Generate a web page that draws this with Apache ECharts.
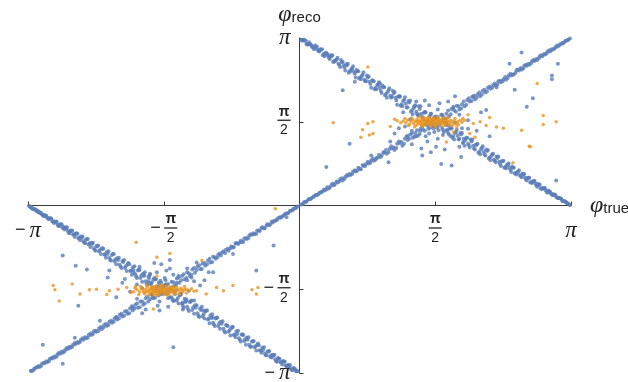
<!DOCTYPE html>
<html>
<head>
<meta charset="utf-8">
<script src="https://cdn.jsdelivr.net/npm/echarts/dist/echarts.min.js"></script>
<style>
  html, body { margin: 0; padding: 0; background: #fff; }
  #chart { width: 628px; height: 382px; }
</style>
</head>
<body>
<div id="chart"></div>
<script>
// Reconstructed azimuthal angle vs. true angle (radians).

// Band along phi_reco = phi_true, positive side
const diagPos = [
  [0.02,0.02],[0.05,0.06],[0.08,0.07],[0.11,0.12],[0.14,0.14],[0.17,0.18],[0.20,0.19],[0.23,0.24],[0.26,0.26],[0.29,0.28],
  [0.32,0.34],[0.35,0.34],[0.38,0.41],[0.41,0.41],[0.44,0.43],[0.47,0.49],[0.50,0.47],[0.53,0.54],[0.56,0.56],[0.59,0.57],
  [0.62,0.64],[0.65,0.64],[0.68,0.71],[0.71,0.68],[0.74,0.74],[0.77,0.78],[0.80,0.79],[0.83,0.85],[0.86,0.84],[0.89,0.89],
  [0.92,0.95],[0.95,0.94],[0.98,0.99],[1.01,0.97],[1.04,1.06],[1.07,1.07],[1.10,1.04],[1.13,1.16],[1.16,1.17],[1.19,1.12],
  [1.22,1.25],[1.25,1.23],[1.28,1.33],[1.31,1.27],[1.34,1.36],[1.37,1.31],[1.40,1.44],[1.43,1.42],[1.46,1.52],[1.49,1.44],
  [1.52,1.55],[1.55,1.49],[1.58,1.63],[1.61,1.58],[1.64,1.70],[1.67,1.62],[1.70,1.72],[1.73,1.67],[1.76,1.81],[1.79,1.78],
  [1.82,1.87],[1.85,1.80],[1.88,1.90],[1.91,1.86],[1.94,1.98],[1.97,1.95],[2.00,2.04],[2.03,1.99],[2.06,2.08],[2.09,2.05],
  [2.12,2.15],[2.15,2.12],[2.18,2.21],[2.21,2.19],[2.24,2.26],[2.27,2.25],[2.30,2.33],[2.33,2.31],[2.36,2.37],[2.39,2.36],
  [2.42,2.44],[2.45,2.44],[2.48,2.46],[2.51,2.54],[2.54,2.53],[2.57,2.55],[2.60,2.62],[2.63,2.62],[2.66,2.64],[2.69,2.71],
  [2.72,2.71],[2.75,2.73],[2.78,2.80],[2.81,2.80],[2.84,2.83],[2.87,2.89],[2.90,2.89],[2.93,2.92],[2.96,2.97],[2.99,2.98],
  [3.02,3.03],[3.05,3.04],[3.08,3.09],[3.11,3.11],[3.13,3.13],
  [0.04,0.03],[0.07,0.07],[0.10,0.11],[0.13,0.12],[0.16,0.16],[0.19,0.20],[0.22,0.21],[0.25,0.25],[0.28,0.30],[0.31,0.30],
  [0.34,0.32],[0.37,0.38],[0.40,0.38],[0.43,0.45],[0.46,0.45],[0.49,0.51],[0.52,0.50],[0.55,0.57],[0.58,0.59],[0.61,0.59],
  [0.64,0.66],[0.67,0.65],[0.70,0.69],[0.73,0.76],[0.76,0.74],[0.79,0.82],[0.82,0.80],[0.85,0.88],[0.88,0.86],[0.91,0.90],
  [0.94,0.91],[0.97,1.00],[1.00,1.04],[1.03,1.00],[1.06,1.11],[1.09,1.09],[1.12,1.08],[1.15,1.20],[1.18,1.19],[1.21,1.16],
  [1.24,1.30],[1.27,1.25],[1.30,1.35],[1.33,1.29],[1.36,1.41],[1.39,1.34],[1.42,1.48],[1.45,1.40],[1.48,1.50],[1.51,1.46],
  [1.54,1.61],[1.57,1.53],[1.60,1.66],[1.63,1.57],[1.66,1.67],[1.69,1.63],[1.72,1.78],[1.75,1.71],[1.78,1.83],[1.81,1.76],
  [1.84,1.86],[1.87,1.82],[1.90,1.95],[1.93,1.89],[1.96,2.01],[1.99,1.96],[2.02,2.06],[2.05,2.02],[2.08,2.12],[2.11,2.08],
  [2.14,2.17],[2.17,2.14],[2.20,2.23],[2.23,2.21],[2.26,2.29],[2.29,2.27],[2.32,2.34],[2.35,2.33],[2.38,2.41],[2.41,2.39],
  [2.44,2.47],[2.47,2.45],[2.50,2.49],[2.53,2.55],[2.56,2.58],[2.59,2.57],[2.62,2.64],[2.65,2.66],[2.68,2.67],[2.71,2.73],
  [2.74,2.75],[2.77,2.76],[2.80,2.82],[2.83,2.84],[2.86,2.85],[2.89,2.91],[2.92,2.93],[2.95,2.94],[2.98,3.00],[3.01,3.01],
  [3.04,3.05],[3.07,3.07],[3.10,3.10]
];

// Band along phi_reco = phi_true, negative side
const diagNeg = [
  [-0.02,-0.02],[-0.05,-0.05],[-0.08,-0.09],[-0.11,-0.10],[-0.14,-0.15],[-0.17,-0.17],[-0.20,-0.21],[-0.23,-0.22],[-0.26,-0.27],[-0.29,-0.29],
  [-0.32,-0.30],[-0.35,-0.37],[-0.38,-0.37],[-0.41,-0.43],[-0.44,-0.42],[-0.47,-0.47],[-0.50,-0.53],[-0.53,-0.52],[-0.56,-0.54],[-0.59,-0.61],
  [-0.62,-0.61],[-0.65,-0.68],[-0.68,-0.66],[-0.71,-0.72],[-0.74,-0.71],[-0.77,-0.79],[-0.80,-0.80],[-0.83,-0.81],[-0.86,-0.89],[-0.89,-0.88],
  [-0.92,-0.90],[-0.95,-0.97],[-0.98,-0.97],[-1.01,-1.06],[-1.04,-1.00],[-1.07,-1.10],[-1.10,-1.08],[-1.13,-1.19],[-1.16,-1.12],[-1.19,-1.21],
  [-1.22,-1.17],[-1.25,-1.30],[-1.28,-1.27],[-1.31,-1.36],[-1.34,-1.29],[-1.37,-1.40],[-1.40,-1.35],[-1.43,-1.49],[-1.46,-1.44],[-1.49,-1.55],
  [-1.52,-1.47],[-1.55,-1.58],[-1.58,-1.52],[-1.61,-1.66],[-1.64,-1.61],[-1.67,-1.73],[-1.70,-1.66],[-1.73,-1.76],[-1.76,-1.71],[-1.79,-1.84],
  [-1.82,-1.80],[-1.85,-1.91],[-1.88,-1.84],[-1.91,-1.93],[-1.94,-1.89],[-1.97,-2.02],[-2.00,-1.98],[-2.03,-2.07],[-2.06,-2.03],[-2.09,-2.12],
  [-2.12,-2.09],[-2.15,-2.18],[-2.18,-2.16],[-2.21,-2.24],[-2.24,-2.22],[-2.27,-2.29],[-2.30,-2.28],[-2.33,-2.36],[-2.36,-2.35],[-2.39,-2.41],
  [-2.42,-2.40],[-2.45,-2.48],[-2.48,-2.47],[-2.51,-2.49],[-2.54,-2.56],[-2.57,-2.56],[-2.60,-2.58],[-2.63,-2.65],[-2.66,-2.65],[-2.69,-2.67],
  [-2.72,-2.74],[-2.75,-2.74],[-2.78,-2.76],[-2.81,-2.83],[-2.84,-2.83],[-2.87,-2.86],[-2.90,-2.92],[-2.93,-2.92],[-2.96,-2.95],[-2.99,-3.01],
  [-3.02,-3.01],[-3.05,-3.04],[-3.08,-3.09],[-3.11,-3.10],
  [-0.04,-0.04],[-0.07,-0.06],[-0.10,-0.10],[-0.13,-0.14],[-0.16,-0.15],[-0.19,-0.19],[-0.22,-0.23],[-0.25,-0.24],[-0.28,-0.28],[-0.31,-0.32],
  [-0.34,-0.35],[-0.37,-0.35],[-0.40,-0.42],[-0.43,-0.41],[-0.46,-0.48],[-0.49,-0.47],[-0.52,-0.54],[-0.55,-0.55],[-0.58,-0.56],[-0.61,-0.63],
  [-0.64,-0.62],[-0.67,-0.69],[-0.70,-0.70],[-0.73,-0.71],[-0.76,-0.78],[-0.79,-0.77],[-0.82,-0.85],[-0.85,-0.83],[-0.88,-0.86],[-0.91,-0.94],
  [-0.94,-0.92],[-0.97,-1.00],[-1.00,-0.96],[-1.03,-1.07],[-1.06,-1.03],[-1.09,-1.13],[-1.12,-1.09],[-1.15,-1.19],[-1.18,-1.14],[-1.21,-1.26],
  [-1.24,-1.20],[-1.27,-1.32],[-1.30,-1.25],[-1.33,-1.39],[-1.36,-1.32],[-1.39,-1.45],[-1.42,-1.37],[-1.45,-1.51],[-1.48,-1.43],[-1.51,-1.56],
  [-1.54,-1.49],[-1.57,-1.63],[-1.60,-1.55],[-1.63,-1.69],[-1.66,-1.60],[-1.69,-1.74],[-1.72,-1.67],[-1.75,-1.80],[-1.78,-1.74],[-1.81,-1.86],
  [-1.84,-1.80],[-1.87,-1.92],[-1.90,-1.86],[-1.93,-1.97],[-1.96,-1.93],[-1.99,-2.03],[-2.02,-1.99],[-2.05,-2.08],[-2.08,-2.05],[-2.11,-2.14],
  [-2.14,-2.12],[-2.17,-2.20],[-2.20,-2.18],[-2.23,-2.26],[-2.26,-2.24],[-2.29,-2.32],[-2.32,-2.30],[-2.35,-2.37],[-2.38,-2.36],[-2.41,-2.43],
  [-2.44,-2.43],[-2.47,-2.49],[-2.50,-2.52],[-2.53,-2.52],[-2.56,-2.58],[-2.59,-2.60],[-2.62,-2.61],[-2.65,-2.67],[-2.68,-2.69],[-2.71,-2.70],
  [-2.74,-2.76],[-2.77,-2.78],[-2.80,-2.79],[-2.83,-2.85],[-2.86,-2.87],[-2.89,-2.88],[-2.92,-2.94],[-2.95,-2.96],[-2.98,-2.97],[-3.01,-3.03],
  [-3.04,-3.04],[-3.07,-3.06],[-3.10,-3.11]
];

// Mirrored band phi_reco = pi - phi_true (outer, core and middle rows)
const antiPosOuter = [
  [0.02,3.10],[0.05,3.11],[0.08,3.03],[0.11,3.06],[0.14,2.99],[0.17,2.93],[0.20,2.98],[0.23,2.89],[0.26,2.93],[0.29,2.80],
  [0.32,2.84],[0.35,2.75],[0.38,2.82],[0.41,2.70],[0.44,2.77],[0.47,2.60],[0.50,2.69],[0.53,2.53],[0.56,2.66],[0.59,2.52],
  [0.62,2.61],[0.65,2.40],[0.68,2.52],[0.71,2.37],[0.74,2.50],[0.77,2.33],[0.80,2.42],[0.83,2.21],[0.86,2.33],[0.89,2.18],
  [0.92,2.31],[0.95,2.11],[0.98,2.22],[1.01,2.02],[1.04,2.20],[1.07,2.04],[1.10,2.13],[1.13,1.89],[1.16,2.05],[1.19,1.86],
  [1.22,2.03],[1.25,1.84],[1.28,1.97],[1.31,1.71],[1.34,1.88],[1.37,1.69],[1.40,1.86],[1.43,1.62],[1.46,1.75],[1.49,1.53],
  [1.52,1.72],[1.55,1.55],[1.58,1.67],[1.61,1.41],[1.64,1.58],[1.67,1.38],[1.70,1.56],[1.73,1.33],[1.76,1.45],[1.79,1.24],
  [1.82,1.42],[1.85,1.25],[1.88,1.36],[1.91,1.12],[1.94,1.27],[1.97,1.09],[2.00,1.24],[2.03,1.05],[2.06,1.16],[2.09,0.96],
  [2.12,1.11],[2.15,0.94],[2.18,1.04],[2.21,0.85],[2.24,0.97],[2.27,0.81],[2.30,0.92],[2.33,0.74],[2.36,0.84],[2.39,0.70],
  [2.42,0.79],[2.45,0.63],[2.48,0.71],[2.51,0.58],[2.54,0.66],[2.57,0.53],[2.60,0.59],[2.63,0.47],[2.66,0.52],[2.69,0.42],
  [2.72,0.46],[2.75,0.35],[2.78,0.39],[2.81,0.31],[2.84,0.33],[2.87,0.24],[2.90,0.26],[2.93,0.19],[2.96,0.20],[2.99,0.14],
  [3.02,0.13],[3.05,0.08],[3.08,0.07],[3.11,0.03],[3.13,0.01]
];
const antiPosCore = [
  [0.04,3.09],[0.07,3.09],[0.10,3.02],[0.13,3.02],[0.16,2.96],[0.19,2.97],[0.22,2.90],[0.25,2.92],[0.28,2.84],[0.31,2.86],
  [0.34,2.77],[0.37,2.80],[0.40,2.71],[0.43,2.74],[0.46,2.64],[0.49,2.69],[0.52,2.59],[0.55,2.63],[0.58,2.52],[0.61,2.57],
  [0.64,2.47],[0.67,2.52],[0.70,2.40],[0.73,2.45],[0.76,2.33],[0.79,2.40],[0.82,2.28],[0.85,2.34],[0.88,2.21],[0.91,2.27],
  [0.94,2.15],[0.97,2.22],[1.00,2.09],[1.03,2.16],[1.06,2.02],[1.09,2.10],[1.12,1.97],[1.15,2.05],[1.18,1.90],[1.21,1.98],
  [1.24,1.84],[1.27,1.93],[1.30,1.78],[1.33,1.86],[1.36,1.72],[1.39,1.81],[1.42,1.66],[1.45,1.75],[1.48,1.60],[1.51,1.69],
  [1.54,1.54],[1.57,1.63],[1.60,1.48],[1.63,1.57],[1.66,1.42],[1.69,1.51],[1.72,1.36],[1.75,1.45],[1.78,1.30],[1.81,1.38],
  [1.84,1.24],[1.87,1.33],[1.90,1.19],[1.93,1.27],[1.96,1.13],[1.99,1.20],[2.02,1.07],[2.05,1.14],[2.08,1.01],[2.11,1.08],
  [2.14,0.96],[2.17,1.02],[2.20,0.90],[2.23,0.96],[2.26,0.84],[2.29,0.89],[2.32,0.78],[2.35,0.83],[2.38,0.72],[2.41,0.77],
  [2.44,0.67],[2.47,0.71],[2.50,0.61],[2.53,0.64],[2.56,0.55],[2.59,0.58],[2.62,0.49],[2.65,0.52],[2.68,0.44],[2.71,0.46],
  [2.74,0.38],[2.77,0.39],[2.80,0.32],[2.83,0.33],[2.86,0.26],[2.89,0.26],[2.92,0.21],[2.95,0.20],[2.98,0.15],[3.01,0.14],
  [3.04,0.09],[3.07,0.08],[3.10,0.04]
];
const antiPosMid = [
  [0.03,3.11],[0.06,3.10],[0.09,3.02],[0.12,3.03],[0.15,2.97],[0.18,3.00],[0.21,2.92],[0.24,2.93],[0.27,2.82],[0.30,2.86],
  [0.33,2.81],[0.36,2.82],[0.39,2.69],[0.42,2.73],[0.45,2.66],[0.48,2.73],[0.51,2.62],[0.54,2.65],[0.57,2.49],[0.60,2.56],
  [0.63,2.51],[0.66,2.54],[0.69,2.38],[0.72,2.43],[0.75,2.36],[0.78,2.44],[0.81,2.32],[0.84,2.35],[0.87,2.18],[0.90,2.26],
  [0.93,2.21],[0.96,2.25],[0.99,2.07],[1.02,2.13],[1.05,2.06],[1.08,2.15],[1.11,2.02],[1.14,2.04],[1.17,1.87],[1.20,1.96],
  [1.23,1.91],[1.26,1.96],[1.29,1.76],[1.32,1.83],[1.35,1.76],[1.38,1.86],[1.41,1.72],[1.44,1.74],[1.47,1.57],[1.50,1.66],
  [1.53,1.61],[1.56,1.66],[1.59,1.46],[1.62,1.53],[1.65,1.46],[1.68,1.56],[1.71,1.42],[1.74,1.44],[1.77,1.27],[1.80,1.36],
  [1.83,1.31],[1.86,1.36],[1.89,1.17],[1.92,1.23],[1.95,1.16],[1.98,1.24],[2.01,1.12],[2.04,1.14],[2.07,0.99],[2.10,1.06],
  [2.13,1.01],[2.16,1.05],[2.19,0.88],[2.22,0.93],[2.25,0.86],[2.28,0.92],[2.31,0.82],[2.34,0.83],[2.37,0.71],[2.40,0.76],
  [2.43,0.71],[2.46,0.73],[2.49,0.60],[2.52,0.63],[2.55,0.57],[2.58,0.60],[2.61,0.52],[2.64,0.52],[2.67,0.43],[2.70,0.45],
  [2.73,0.41],[2.76,0.41],[2.79,0.32],[2.82,0.33],[2.85,0.28],[2.88,0.28],[2.91,0.22],[2.94,0.21],[2.97,0.16],[3.00,0.14],
  [3.03,0.12],[3.06,0.08],[3.09,0.05],[3.12,0.02]
];

// Mirrored band phi_reco = -pi - phi_true (outer, core and middle rows)
const antiNegOuter = [
  [-0.02,-3.11],[-0.05,-3.07],[-0.08,-3.09],[-0.11,-2.99],[-0.14,-3.02],[-0.17,-2.93],[-0.20,-2.98],[-0.23,-2.88],[-0.26,-2.93],[-0.29,-2.80],
  [-0.32,-2.85],[-0.35,-2.73],[-0.38,-2.81],[-0.41,-2.66],[-0.44,-2.76],[-0.47,-2.62],[-0.50,-2.72],[-0.53,-2.54],[-0.56,-2.65],[-0.59,-2.47],
  [-0.62,-2.61],[-0.65,-2.43],[-0.68,-2.55],[-0.71,-2.35],[-0.74,-2.47],[-0.77,-2.28],[-0.80,-2.44],[-0.83,-2.26],[-0.86,-2.38],[-0.89,-2.17],
  [-0.92,-2.31],[-0.95,-2.10],[-0.98,-2.26],[-1.01,-2.04],[-1.04,-2.21],[-1.07,-1.97],[-1.10,-2.12],[-1.13,-1.90],[-1.16,-2.09],[-1.19,-1.87],
  [-1.22,-2.03],[-1.25,-1.78],[-1.28,-1.98],[-1.31,-1.76],[-1.34,-1.92],[-1.37,-1.66],[-1.40,-1.84],[-1.43,-1.59],[-1.46,-1.79],[-1.49,-1.57],
  [-1.52,-1.74],[-1.55,-1.48],[-1.58,-1.66],[-1.61,-1.41],[-1.64,-1.61],[-1.67,-1.39],[-1.70,-1.56],[-1.73,-1.30],[-1.76,-1.48],[-1.79,-1.25],
  [-1.82,-1.43],[-1.85,-1.21],[-1.88,-1.36],[-1.91,-1.14],[-1.94,-1.30],[-1.97,-1.10],[-2.00,-1.23],[-2.03,-1.02],[-2.06,-1.17],[-2.09,-0.98],
  [-2.12,-1.10],[-2.15,-0.91],[-2.18,-1.03],[-2.21,-0.86],[-2.24,-0.98],[-2.27,-0.81],[-2.30,-0.91],[-2.33,-0.75],[-2.36,-0.85],[-2.39,-0.70],
  [-2.42,-0.78],[-2.45,-0.63],[-2.48,-0.71],[-2.51,-0.58],[-2.54,-0.65],[-2.57,-0.53],[-2.60,-0.59],[-2.63,-0.47],[-2.66,-0.52],[-2.69,-0.41],
  [-2.72,-0.45],[-2.75,-0.36],[-2.78,-0.39],[-2.81,-0.30],[-2.84,-0.33],[-2.87,-0.25],[-2.90,-0.26],[-2.93,-0.19],[-2.96,-0.20],[-2.99,-0.14],
  [-3.02,-0.13],[-3.05,-0.08],[-3.08,-0.07],[-3.11,-0.03],[-3.13,-0.01]
];
const antiNegCore = [
  [-0.04,-3.11],[-0.07,-3.05],[-0.10,-3.06],[-0.13,-2.99],[-0.16,-3.00],[-0.19,-2.92],[-0.22,-2.94],[-0.25,-2.86],[-0.28,-2.89],[-0.31,-2.80],
  [-0.34,-2.84],[-0.37,-2.74],[-0.40,-2.78],[-0.43,-2.67],[-0.46,-2.72],[-0.49,-2.61],[-0.52,-2.66],[-0.55,-2.55],[-0.58,-2.61],[-0.61,-2.48],
  [-0.64,-2.54],[-0.67,-2.42],[-0.70,-2.49],[-0.73,-2.36],[-0.76,-2.43],[-0.79,-2.30],[-0.82,-2.37],[-0.85,-2.24],[-0.88,-2.31],[-0.91,-2.18],
  [-0.94,-2.26],[-0.97,-2.12],[-1.00,-2.20],[-1.03,-2.06],[-1.06,-2.14],[-1.09,-1.99],[-1.12,-2.08],[-1.15,-1.93],[-1.18,-2.02],[-1.21,-1.87],
  [-1.24,-1.96],[-1.27,-1.81],[-1.30,-1.90],[-1.33,-1.75],[-1.36,-1.84],[-1.39,-1.69],[-1.42,-1.78],[-1.45,-1.63],[-1.48,-1.72],[-1.51,-1.57],
  [-1.54,-1.66],[-1.57,-1.51],[-1.60,-1.60],[-1.63,-1.45],[-1.66,-1.54],[-1.69,-1.39],[-1.72,-1.48],[-1.75,-1.33],[-1.78,-1.42],[-1.81,-1.28],
  [-1.84,-1.36],[-1.87,-1.22],[-1.90,-1.29],[-1.93,-1.16],[-1.96,-1.23],[-1.99,-1.10],[-2.02,-1.17],[-2.05,-1.04],[-2.08,-1.11],[-2.11,-0.99],
  [-2.14,-1.05],[-2.17,-0.93],[-2.20,-0.98],[-2.23,-0.87],[-2.26,-0.92],[-2.29,-0.81],[-2.32,-0.86],[-2.35,-0.76],[-2.38,-0.80],[-2.41,-0.70],
  [-2.44,-0.73],[-2.47,-0.64],[-2.50,-0.67],[-2.53,-0.58],[-2.56,-0.61],[-2.59,-0.53],[-2.62,-0.55],[-2.65,-0.47],[-2.68,-0.48],[-2.71,-0.41],
  [-2.74,-0.42],[-2.77,-0.35],[-2.80,-0.36],[-2.83,-0.30],[-2.86,-0.30],[-2.89,-0.24],[-2.92,-0.23],[-2.95,-0.18],[-2.98,-0.17],[-3.01,-0.12],
  [-3.04,-0.11],[-3.07,-0.06],[-3.10,-0.05]
];
const antiNegMid = [
  [-0.03,-3.11],[-0.06,-3.06],[-0.09,-3.08],[-0.12,-3.01],[-0.15,-3.01],[-0.18,-2.92],[-0.21,-2.94],[-0.24,-2.87],[-0.27,-2.92],[-0.30,-2.82],
  [-0.33,-2.81],[-0.36,-2.74],[-0.39,-2.81],[-0.42,-2.71],[-0.45,-2.72],[-0.48,-2.59],[-0.51,-2.64],[-0.54,-2.55],[-0.57,-2.65],[-0.60,-2.52],
  [-0.63,-2.51],[-0.66,-2.42],[-0.69,-2.52],[-0.72,-2.41],[-0.75,-2.42],[-0.78,-2.28],[-0.81,-2.34],[-0.84,-2.25],[-0.87,-2.36],[-0.90,-2.22],
  [-0.93,-2.21],[-0.96,-2.11],[-0.99,-2.23],[-1.02,-2.11],[-1.05,-2.12],[-1.08,-1.97],[-1.11,-2.04],[-1.14,-1.96],[-1.17,-2.07],[-1.20,-1.92],
  [-1.23,-1.91],[-1.26,-1.80],[-1.29,-1.94],[-1.32,-1.81],[-1.35,-1.82],[-1.38,-1.66],[-1.41,-1.74],[-1.44,-1.66],[-1.47,-1.77],[-1.50,-1.62],
  [-1.53,-1.61],[-1.56,-1.50],[-1.59,-1.64],[-1.62,-1.51],[-1.65,-1.52],[-1.68,-1.36],[-1.71,-1.44],[-1.74,-1.36],[-1.77,-1.47],[-1.80,-1.32],
  [-1.83,-1.31],[-1.86,-1.20],[-1.89,-1.33],[-1.92,-1.21],[-1.95,-1.22],[-1.98,-1.08],[-2.01,-1.14],[-2.04,-1.06],[-2.07,-1.15],[-2.10,-1.02],
  [-2.13,-1.01],[-2.16,-0.91],[-2.19,-1.02],[-2.22,-0.91],[-2.25,-0.92],[-2.28,-0.80],[-2.31,-0.84],[-2.34,-0.77],[-2.37,-0.83],[-2.40,-0.72],
  [-2.43,-0.71],[-2.46,-0.63],[-2.49,-0.70],[-2.52,-0.61],[-2.55,-0.61],[-2.58,-0.52],[-2.61,-0.54],[-2.64,-0.48],[-2.67,-0.51],[-2.70,-0.43],
  [-2.73,-0.41],[-2.76,-0.35],[-2.79,-0.38],[-2.82,-0.31],[-2.85,-0.30],[-2.88,-0.24],[-2.91,-0.24],[-2.94,-0.19],[-2.97,-0.18],[-3.00,-0.14],
  [-3.03,-0.10],[-3.06,-0.08],[-3.09,-0.05],[-3.12,-0.02]
];

// Loose blue points between the bands
const blueSpread = [
  [2.57,2.87],[2.43,2.66],[2.99,2.66],[2.92,2.44],[2.92,2.37],[0.50,2.16],[0.64,2.32],[0.31,0.72],[0.58,1.16],[0.83,0.94],
  [1.03,0.81],[1.41,1.07],[1.42,0.94],[1.64,0.78],[1.76,0.75],[1.87,0.91],[1.95,1.44],[2.16,1.79],[2.63,1.85],[2.70,2.01],
  [2.49,2.17],[2.28,2.22],[2.97,0.47],[1.45,1.97],[1.16,2.04],[0.93,2.29],[1.78,1.85],[2.01,2.04],
  [1.30,1.40],[1.35,1.30],[1.50,1.35],[1.60,1.25],[1.55,1.45],[1.70,1.40],[1.45,1.75],[1.60,1.80],[1.52,1.72],[1.38,1.70],
  [1.75,1.30],[1.25,1.30],[1.65,1.70],[1.85,1.70],[1.20,1.75],[1.48,1.20],[1.33,1.85],[1.72,1.95],[1.90,1.25],[1.58,1.10],
  [1.15,1.45],[1.22,1.48],[1.28,1.62],[1.40,1.40],[1.46,1.30],[1.56,1.38],[1.66,1.32],[1.72,1.50],[1.80,1.55],[1.88,1.45],
  [1.95,1.60],[1.35,1.95],[1.50,1.88],[1.62,1.92],[1.80,2.05],[1.05,1.20],[1.10,1.35],[2.05,1.40],[2.10,1.75],[1.68,1.05],
  [1.52,1.00],[1.30,1.15],[1.85,1.10],[2.20,1.30],
  [-2.59,-1.13],[-2.74,-0.94],[-2.46,-1.20],[-2.56,-1.88],[-2.20,-1.22],[-2.02,-1.38],[-2.97,-2.61],[-2.74,-2.97],[-2.60,-2.48],[-1.46,-2.66],
  [-1.19,-1.07],[-1.00,-1.25],[-0.77,-0.91],[-0.50,-1.22],[-0.30,-0.75],[-0.15,-0.22],[-2.31,-2.16],[-2.12,-2.10],[-1.93,-1.91],[-1.62,-1.97],
  [-1.31,-1.79],[-1.11,-1.97],[-1.00,-2.10],[-1.73,-1.28],[-1.54,-1.22],
  [-1.30,-1.40],[-1.40,-1.32],[-1.55,-1.40],[-1.65,-1.25],[-1.60,-1.45],[-1.75,-1.42],[-1.45,-1.78],[-1.62,-1.80],[-1.50,-1.72],[-1.38,-1.68],
  [-1.80,-1.30],[-1.25,-1.35],[-1.70,-1.72],[-1.88,-1.75],[-1.22,-1.78],[-1.50,-1.18],[-1.35,-1.88],[-1.78,-1.95],[-1.92,-1.25],[-1.60,-1.10],
  [-1.15,-1.50],[-1.22,-1.42],[-1.28,-1.60],[-1.42,-1.45],[-1.46,-1.30],[-1.56,-1.36],[-1.66,-1.38],[-1.72,-1.46],[-1.82,-1.55],[-1.88,-1.48],
  [-1.96,-1.62],[-1.35,-1.95],[-1.52,-1.90],[-1.64,-1.88],[-1.82,-2.02],[-1.05,-1.25],[-1.10,-1.40],[-2.05,-1.45],[-2.12,-1.72],[-1.68,-1.08],
  [-1.50,-1.02],[-1.30,-1.18],[-1.85,-1.15],[-2.22,-1.35]
];

// Orange population: dense cores near +-pi/2 and a horizontal spread
const orangePosCore = [
  [1.20,1.58],[1.23,1.55],[1.25,1.60],[1.27,1.52],[1.29,1.57],[1.31,1.61],[1.32,1.54],[1.34,1.58],[1.35,1.50],[1.36,1.62],
  [1.38,1.56],[1.39,1.59],[1.40,1.53],[1.41,1.57],[1.42,1.61],[1.43,1.55],[1.44,1.58],[1.45,1.52],[1.46,1.60],[1.47,1.56],
  [1.48,1.63],[1.49,1.54],[1.50,1.58],[1.51,1.55],[1.52,1.61],[1.53,1.57],[1.54,1.53],[1.55,1.59],[1.56,1.56],[1.57,1.62],
  [1.58,1.54],[1.59,1.58],[1.60,1.60],[1.61,1.55],[1.62,1.57],[1.63,1.52],[1.64,1.61],[1.65,1.56],[1.66,1.59],[1.67,1.54],
  [1.68,1.58],[1.70,1.62],[1.71,1.55],[1.72,1.58],[1.74,1.51],[1.75,1.60],[1.77,1.56],[1.79,1.59],[1.81,1.53],[1.83,1.57],
  [1.86,1.60],[1.44,1.65],[1.52,1.49],[1.60,1.66],[1.37,1.53],[1.57,1.50],[1.48,1.59],[1.53,1.62],[1.63,1.58],[1.41,1.51],
  [1.22,1.63],[1.26,1.50],[1.30,1.64],[1.33,1.47],[1.36,1.57],[1.39,1.66],[1.42,1.48],[1.45,1.63],[1.47,1.51],[1.50,1.66],
  [1.52,1.52],[1.55,1.64],[1.58,1.47],[1.61,1.63],[1.64,1.50],[1.67,1.64],[1.69,1.51],[1.72,1.65],[1.74,1.56],[1.77,1.50],
  [1.80,1.63],[1.84,1.52],[1.88,1.56],[1.91,1.60],[1.17,1.55],[1.13,1.59]
];
const orangePosSpread = [
  [0.39,1.55],[0.73,1.42],[0.71,1.28],[0.81,1.32],[0.85,1.35],[0.79,1.54],[0.85,1.57],[0.79,2.60],[2.75,2.29],[2.82,1.69],
  [2.97,1.57],[2.82,1.52],[2.66,1.11],[2.57,1.41],[2.47,0.80],[2.36,1.45],[2.28,1.47],[2.20,1.65],[2.16,1.50],[2.09,1.57],
  [2.01,1.54],[1.97,1.35],[2.03,1.28],[1.89,1.63],[1.82,1.47],[1.78,1.38],[1.70,1.19],[2.67,1.10],[1.10,1.62],[1.05,1.48],
  [1.95,1.70]
];
const orangeNegCore = [
  [-1.88,-1.58],[-1.85,-1.62],[-1.83,-1.55],[-1.81,-1.60],[-1.79,-1.66],[-1.78,-1.57],[-1.76,-1.53],[-1.75,-1.61],[-1.74,-1.58],[-1.73,-1.64],
  [-1.72,-1.55],[-1.71,-1.60],[-1.70,-1.57],[-1.69,-1.62],[-1.68,-1.54],[-1.67,-1.59],[-1.66,-1.65],[-1.65,-1.56],[-1.64,-1.61],[-1.63,-1.58],
  [-1.62,-1.53],[-1.61,-1.63],[-1.60,-1.57],[-1.59,-1.60],[-1.58,-1.55],[-1.57,-1.66],[-1.56,-1.59],[-1.55,-1.62],[-1.54,-1.56],[-1.53,-1.60],
  [-1.52,-1.64],[-1.51,-1.57],[-1.50,-1.54],[-1.49,-1.61],[-1.48,-1.58],[-1.47,-1.62],[-1.46,-1.55],[-1.45,-1.59],[-1.43,-1.63],[-1.41,-1.57],
  [-1.39,-1.60],[-1.37,-1.55],[-1.35,-1.62],[-1.33,-1.58],[-1.31,-1.64],[-1.66,-1.69],[-1.58,-1.50],[-1.70,-1.52],[-1.53,-1.68],[-1.62,-1.61],
  [-1.77,-1.62],[-1.60,-1.55],[-1.55,-1.58],[-1.68,-1.60],[-1.45,-1.66],
  [-1.92,-1.62],[-1.90,-1.55],[-1.86,-1.67],[-1.84,-1.52],[-1.80,-1.63],[-1.77,-1.49],[-1.74,-1.68],[-1.71,-1.53],[-1.69,-1.66],[-1.66,-1.51],
  [-1.63,-1.67],[-1.60,-1.49],[-1.57,-1.63],[-1.54,-1.51],[-1.51,-1.66],[-1.48,-1.52],[-1.45,-1.63],[-1.42,-1.53],[-1.39,-1.66],[-1.36,-1.58],
  [-1.33,-1.52],[-1.28,-1.60],[-1.25,-1.56],[-1.22,-1.61]
];
const orangeNegSpread = [
  [-1.89,-0.69],[-1.50,-0.90],[-2.85,-1.50],[-2.83,-1.58],[-2.63,-1.47],[-2.78,-1.79],[-2.54,-1.66],[-2.43,-1.58],[-2.35,-1.57],[-2.20,-1.60],
  [-2.10,-1.57],[-2.00,-1.54],[-2.23,-1.67],[-1.69,-1.94],[-1.46,-1.54],[-1.31,-1.57],[-1.19,-1.60],[-1.08,-1.66],[-0.96,-1.54],[-0.88,-1.60],
  [-0.77,-1.50],[-0.55,-1.58],[-0.50,-1.66],[-0.48,-1.54],[-0.28,-0.06],[-1.65,-1.32],[-1.65,-0.97],[-1.13,-1.03],[-1.90,-1.52],[-1.95,-1.63]
];

// Tick labels at -pi, -pi/2, 0, pi/2, pi
const tickLabels = ['−π', '−π/2', '', 'π/2', 'π'];

const HALF_PI = Math.PI / 2;
const INK = '#222';
const FRAC_W = 13;
const MINUS_W = 14;

// Plot area in pixels; the axes cross at the origin, in the middle of it
const GRID = { left: 28, right: 57, top: 38, bottom: 9 };
const PLOT_W = 628 - GRID.left - GRID.right;
const PLOT_H = 382 - GRID.top - GRID.bottom;

function tickText(v) {
  const i = Math.round(v / HALF_PI) + 2;
  const t = tickLabels[i] || '';
  if (!t) return '';
  const neg = t[0] === '−';
  const body = neg ? t.slice(1) : t;
  if (body.indexOf('/') >= 0) {
    const parts = body.split('/');
    return neg
      ? '{sp|}{n|' + parts[0] + '}\n{m|−}{bar|}\n{sp|}{d|' + parts[1] + '}'
      : '{n|' + parts[0] + '}\n{bar|}\n{d|' + parts[1] + '}';
  }
  return neg ? '{mb|−}{pi|' + body + '}' : '{pi|' + body + '}';
}

function labelRich(piLineHeight) {
  return {
    n:   { fontFamily: 'Liberation Sans', fontSize: 14, fontWeight: 'bold', color: INK, width: FRAC_W, align: 'center', lineHeight: 12 },
    d:   { fontFamily: 'Liberation Sans', fontSize: 14, color: INK, width: FRAC_W, align: 'center', lineHeight: 15 },
    bar: { width: FRAC_W, height: 1.3, lineHeight: 5, backgroundColor: INK },
    sp:  { width: MINUS_W },
    m:   { fontFamily: 'Liberation Sans', fontSize: 18, color: INK, width: MINUS_W, align: 'left', lineHeight: 5 },
    mb:  { fontFamily: 'Liberation Sans', fontSize: 18, color: INK, padding: [0, 4, 0, 0], lineHeight: piLineHeight },
    pi:  { fontFamily: 'Liberation Serif', fontStyle: 'italic', fontSize: 23, color: INK, lineHeight: piLineHeight }
  };
}

function nameRich() {
  return {
    p: { fontFamily: 'Liberation Serif', fontStyle: 'italic', fontSize: 24, color: INK },
    s: { fontFamily: 'Liberation Sans', fontSize: 15, color: INK, padding: [7, 0, 0, 0] }
  };
}

const axisCommon = {
  type: 'value',
  min: -Math.PI,
  max: Math.PI,
  interval: HALF_PI,
  axisLine: { onZero: false, lineStyle: { color: '#3a3a3a', width: 1 } },
  axisTick: { inside: true, length: 4, lineStyle: { color: '#3a3a3a' } },
  splitLine: { show: false }
};

const chart = echarts.init(document.getElementById('chart'), null, { renderer: 'canvas' });
chart.setOption({
  animation: false,
  backgroundColor: '#ffffff',
  grid: Object.assign({ containLabel: false, outerBoundsMode: 'none' }, GRID),
  xAxis: Object.assign({}, axisCommon, {
    position: 'bottom',
    offset: -PLOT_H / 2,
    name: '{p|φ}{s|true}',
    nameLocation: 'end',
    nameGap: 19,
    nameTextStyle: { rich: nameRich(), verticalAlign: 'middle' },
    axisLabel: { margin: 8, formatter: tickText, rich: labelRich(34) }
  }),
  yAxis: Object.assign({}, axisCommon, {
    position: 'left',
    offset: -PLOT_W / 2,
    name: '{p|φ}{s|reco}',
    nameLocation: 'end',
    nameGap: 8,
    nameTextStyle: { rich: nameRich(), align: 'center' },
    axisLabel: { margin: 9, formatter: tickText, rich: labelRich(20) }
  }),
  series: [
    {
      type: 'scatter',
      symbol: 'circle',
      symbolSize: 4,
      itemStyle: { color: '#5A7DB8' },
      data: [].concat(diagPos, diagNeg, antiPosOuter, antiPosCore, antiPosMid, antiNegOuter, antiNegCore, antiNegMid, blueSpread)
    },
    {
      type: 'scatter',
      symbol: 'circle',
      symbolSize: 3.5,
      itemStyle: { color: '#E8941E' },
      data: [].concat(orangePosCore, orangePosSpread, orangeNegCore, orangeNegSpread)
    }
  ]
});
</script>
</body>
</html>
